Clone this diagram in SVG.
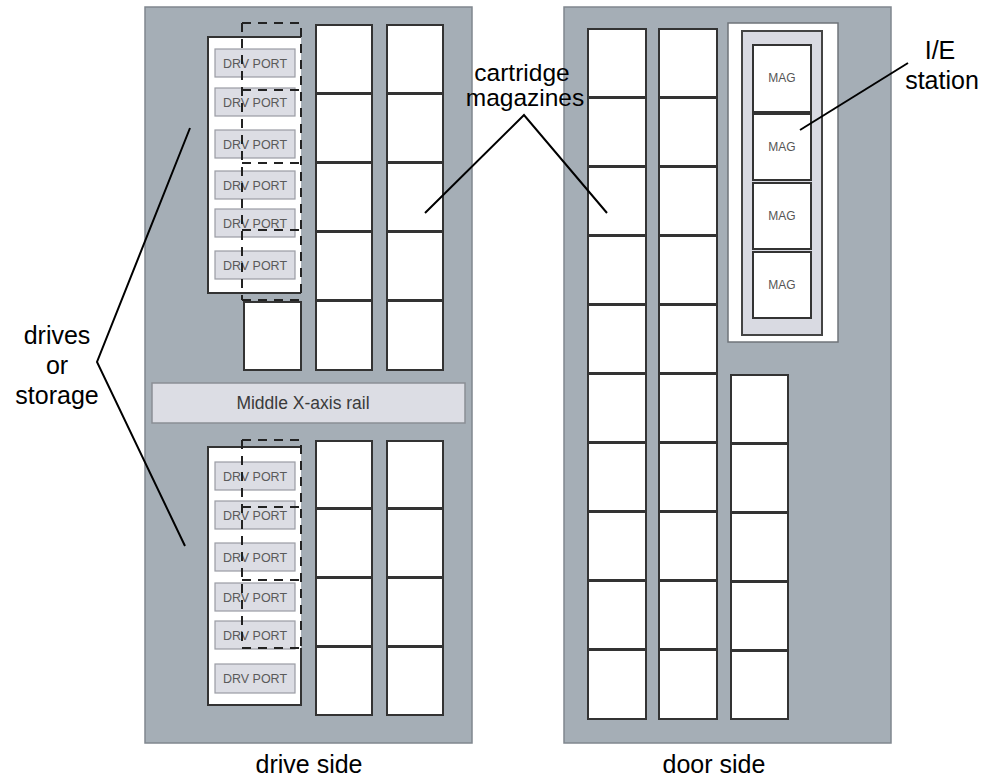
<svg xmlns="http://www.w3.org/2000/svg" width="998" height="780" viewBox="0 0 998 780">
<defs>
<style>
.panel{fill:#a5aeb6;stroke:#80878e;stroke-width:1.5}
.mag{fill:#ffffff;stroke:#333333;stroke-width:2}
.dbox{fill:#ffffff}
.dedge{fill:none;stroke:#333333;stroke-width:2}
.port{fill:#dcdde4;stroke:#9a9ca4;stroke-width:1.2}
.porttxt{font-family:"Liberation Sans",Arial,sans-serif;font-size:12.5px;fill:#5a5a5a;text-anchor:middle}
.dash{fill:none;stroke:#222222;stroke-width:2;stroke-dasharray:9 7}
.rail{fill:#dcdde4;stroke:#8a8e95;stroke-width:1.5}
.railtxt{font-family:"Liberation Sans",Arial,sans-serif;font-size:17.5px;fill:#3a3a3a;text-anchor:middle}
.magtxt{font-family:"Liberation Sans",Arial,sans-serif;font-size:12px;fill:#555555;text-anchor:middle}
.label{font-family:"Liberation Sans",Arial,sans-serif;font-size:25px;fill:#000000;text-anchor:middle}
.lead{fill:none;stroke:#000000;stroke-width:2}
</style>
</defs>
<rect width="998" height="780" fill="#ffffff"/>

<g id="drive-side-panel">
<rect class="panel" x="145" y="7" width="327" height="736"/>
</g>
<g id="door-side-panel">
<rect class="panel" x="564" y="7" width="327" height="736"/>
</g>

<!-- upper drive block -->
<g id="upper-drive-box">
<rect class="dbox" x="208" y="37" width="93" height="256"/>
<path class="dedge" d="M301,37 H208 V293 H301"/>
<rect class="port" x="215" y="49" width="80" height="28"/><text class="porttxt" x="255" y="67.5">DRV PORT</text>
<rect class="port" x="215" y="88" width="80" height="28"/><text class="porttxt" x="255" y="106.5">DRV PORT</text>
<rect class="port" x="215" y="130" width="80" height="28"/><text class="porttxt" x="255" y="148.5">DRV PORT</text>
<rect class="port" x="215" y="171" width="80" height="28"/><text class="porttxt" x="255" y="189.5">DRV PORT</text>
<rect class="port" x="215" y="209" width="80" height="28"/><text class="porttxt" x="255" y="227.5">DRV PORT</text>
<rect class="port" x="215" y="251" width="80" height="28"/><text class="porttxt" x="255" y="269.5">DRV PORT</text>
</g>
<g id="upper-single-slot">
<rect class="mag" x="244" y="302" width="57" height="68"/>
</g>
<g id="upper-drive-slots">
<path class="dash" d="M242,23 V300 M242,23 H299 M242,90 H299 M242,163 H299 M242,230 H299 M242,300 H300 M301,28 V300"/>
</g>

<g id="upper-left-magazines">
<rect class="mag" x="316" y="25" width="56" height="68"/>
<rect class="mag" x="316" y="94" width="56" height="68"/>
<rect class="mag" x="316" y="163" width="56" height="68"/>
<rect class="mag" x="316" y="232" width="56" height="68"/>
<rect class="mag" x="316" y="301" width="56" height="69"/>
<rect class="mag" x="387" y="25" width="56" height="68"/>
<rect class="mag" x="387" y="94" width="56" height="68"/>
<rect class="mag" x="387" y="163" width="56" height="68"/>
<rect class="mag" x="387" y="232" width="56" height="68"/>
<rect class="mag" x="387" y="301" width="56" height="69"/>
</g>

<g id="middle-rail">
<rect class="rail" x="152" y="383" width="313" height="40"/>
<text class="railtxt" x="303" y="409">Middle X-axis rail</text>
</g>

<!-- lower drive block -->
<g id="lower-drive-box">
<rect class="dbox" x="208" y="447" width="93" height="258"/>
<path class="dedge" d="M301,447 H208 V705 H301 V648"/>
<rect class="port" x="215" y="462" width="80" height="28"/><text class="porttxt" x="255" y="480.5">DRV PORT</text>
<rect class="port" x="215" y="501" width="80" height="28"/><text class="porttxt" x="255" y="519.5">DRV PORT</text>
<rect class="port" x="215" y="543" width="80" height="28"/><text class="porttxt" x="255" y="561.5">DRV PORT</text>
<rect class="port" x="215" y="583" width="80" height="28"/><text class="porttxt" x="255" y="601.5">DRV PORT</text>
<rect class="port" x="215" y="621" width="80" height="28"/><text class="porttxt" x="255" y="639.5">DRV PORT</text>
<rect class="port" x="215" y="664" width="80" height="29"/><text class="porttxt" x="255" y="683">DRV PORT</text>
</g>
<g id="lower-drive-slots">
<path class="dash" d="M242,440 V648 M242,440 H299 M242,507 H299 M242,580 H299 M242,648 H300 M301,445 V648"/>
</g>

<g id="lower-left-magazines">
<rect class="mag" x="316" y="441" width="56" height="67"/>
<rect class="mag" x="316" y="509" width="56" height="68"/>
<rect class="mag" x="316" y="578" width="56" height="68"/>
<rect class="mag" x="316" y="647" width="56" height="68"/>
<rect class="mag" x="387" y="441" width="56" height="67"/>
<rect class="mag" x="387" y="509" width="56" height="68"/>
<rect class="mag" x="387" y="578" width="56" height="68"/>
<rect class="mag" x="387" y="647" width="56" height="68"/>
</g>

<!-- door side -->
<g id="door-column-1">
<rect class="mag" x="588" y="29" width="58" height="68"/>
<rect class="mag" x="588" y="98" width="58" height="68"/>
<rect class="mag" x="588" y="167" width="58" height="68"/>
<rect class="mag" x="588" y="236" width="58" height="68"/>
<rect class="mag" x="588" y="305" width="58" height="68"/>
<rect class="mag" x="588" y="374" width="58" height="68"/>
<rect class="mag" x="588" y="443" width="58" height="68"/>
<rect class="mag" x="588" y="512" width="58" height="68"/>
<rect class="mag" x="588" y="581" width="58" height="68"/>
<rect class="mag" x="588" y="650" width="58" height="69"/>
</g>
<g id="door-column-2">
<rect class="mag" x="659" y="29" width="58" height="68"/>
<rect class="mag" x="659" y="98" width="58" height="68"/>
<rect class="mag" x="659" y="167" width="58" height="68"/>
<rect class="mag" x="659" y="236" width="58" height="68"/>
<rect class="mag" x="659" y="305" width="58" height="68"/>
<rect class="mag" x="659" y="374" width="58" height="68"/>
<rect class="mag" x="659" y="443" width="58" height="68"/>
<rect class="mag" x="659" y="512" width="58" height="68"/>
<rect class="mag" x="659" y="581" width="58" height="68"/>
<rect class="mag" x="659" y="650" width="58" height="69"/>
</g>
<g id="door-column-3">
<rect class="mag" x="731" y="375" width="57" height="68"/>
<rect class="mag" x="731" y="444" width="57" height="68"/>
<rect class="mag" x="731" y="513" width="57" height="68"/>
<rect class="mag" x="731" y="582" width="57" height="68"/>
<rect class="mag" x="731" y="651" width="57" height="68"/>
</g>

<g id="ie-station">
<rect x="728" y="23" width="110" height="319" fill="#ffffff" stroke="#6f747a" stroke-width="1.5"/>
<rect x="742" y="31" width="80" height="304" fill="#d9dae2" stroke="#444444" stroke-width="2"/>
<rect class="mag" x="753" y="45" width="58" height="67"/><text class="magtxt" x="782" y="82">MAG</text>
<rect class="mag" x="753" y="114" width="58" height="66"/><text class="magtxt" x="782" y="151">MAG</text>
<rect class="mag" x="753" y="183" width="58" height="66"/><text class="magtxt" x="782" y="220">MAG</text>
<rect class="mag" x="753" y="252" width="58" height="66"/><text class="magtxt" x="782" y="289">MAG</text>
</g>

<g id="connectors">
<path class="lead" d="M190,128 L97,362 L185,546"/>
<path class="lead" d="M425,213 L524,115 L607,213"/>
<path class="lead" d="M800,130 L908,63"/>
</g>

<g id="labels">
<text class="label" x="57" y="344">drives</text>
<text class="label" x="57" y="374">or</text>
<text class="label" x="57" y="404">storage</text>
<text class="label" x="522" y="81" style="font-size:24.5px">cartridge</text>
<text class="label" x="525" y="106" style="font-size:24.5px">magazines</text>
<text class="label" x="940" y="59">I/E</text>
<text class="label" x="942" y="89">station</text>
<text class="label" x="309" y="773">drive side</text>
<text class="label" x="714" y="773">door side</text>
</g>
</svg>
